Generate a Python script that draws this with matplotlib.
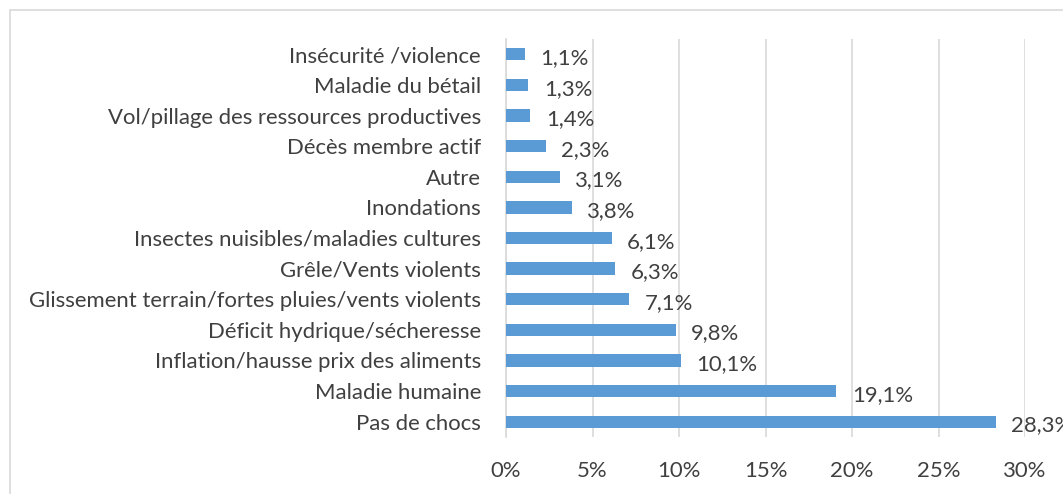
import matplotlib
matplotlib.use('Agg')
import matplotlib.pyplot as plt
from matplotlib.patches import Rectangle

plt.rcParams['font.family'] = ['Lato', 'DejaVu Sans']

# categories listed bottom to top
categories = ['Pas de chocs', 'Maladie humaine', 'Inflation/hausse prix des aliments',
              'Déficit hydrique/sécheresse', 'Glissement terrain/fortes pluies/vents violents',
              'Grêle/Vents violents', 'Insectes nuisibles/maladies cultures', 'Inondations',
              'Autre', 'Décès membre actif', 'Vol/pillage des ressources productives',
              'Maladie du bétail', 'Insécurité /violence']
values = [28.3, 19.1, 10.1, 9.8, 7.1, 6.3, 6.1, 3.8, 3.1, 2.3, 1.4, 1.3, 1.1]
xticks = [0, 5, 10, 15, 20, 25, 30]

txt = '#404040'
fs = 15.9
fig = plt.figure(figsize=(10.63, 4.94), dpi=100)
ax = fig.add_axes([506/1063, 57/494, (1025-506)/1063, 398/494])

ypos = range(len(categories))
ax.barh(ypos, values, height=0.4, color='#5B9BD5', zorder=3)
for y, v in zip(ypos, values):
    # value label just right of each bar (the last one runs off the frame, as in the source)
    ax.text(v + 0.9, y - 0.12, f'{v:.1f}%'.replace('.', ','), va='center', ha='left',
            fontsize=fs, color=txt, clip_on=False)

ax.set_xlim(0, 30)
ax.set_ylim(-0.5, 12.5)
ax.set_xticks(xticks)
ax.set_xticklabels([f'{t}%' for t in xticks])
ax.set_yticks(list(ypos))
ax.set_yticklabels(categories)
ax.tick_params(axis='both', length=0, labelsize=fs, labelcolor=txt)
ax.tick_params(axis='y', pad=18)
ax.tick_params(axis='x', pad=17)
ax.grid(axis='x', color='#D9D9D9', linewidth=1.2, zorder=0)
for s in ['top', 'right', 'bottom']:
    ax.spines[s].set_visible(False)
ax.spines['left'].set_color('#D9D9D9')
ax.spines['left'].set_linewidth(1.2)

# chart frame
fig.patches.append(Rectangle((10/1063, -0.1), 1.2, (494-10)/494 + 0.1, transform=fig.transFigure,
                             fill=False, edgecolor='#D9D9D9', linewidth=1.2))

fig.savefig('out.png', dpi=100)
